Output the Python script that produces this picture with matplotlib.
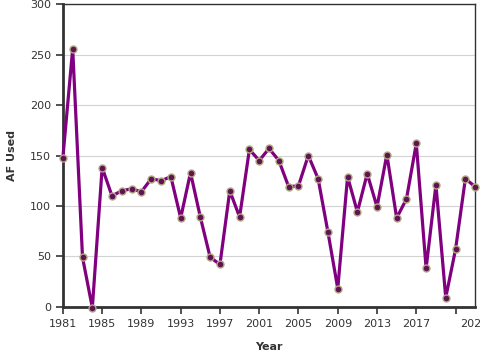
import matplotlib
matplotlib.use("Agg")
import matplotlib.pyplot as plt
from matplotlib.transforms import ScaledTranslation

years = list(range(1981, 2024))
af_used = [148, 256, 49, -1, 138, 110, 115, 117, 114, 127,
           125, 129, 88, 133, 89, 49, 42, 115, 89, 156,
           145, 157, 145, 119, 120, 150, 127, 74, 18, 129,
           94, 132, 99, 151, 88, 107, 162, 38, 121, 9,
           57, 127, 119]
xticks = list(range(1981, 2022, 4))
yticks = [0, 50, 100, 150, 200, 250, 300]


def plot():
    fig = plt.figure(figsize=(4.8, 3.6), dpi=100)
    ax = fig.add_axes([0.131, 0.148, 0.859, 0.840])

    ax.plot(years, af_used, color="#800080", linewidth=2.3, zorder=3,
            marker="o", markersize=5, markerfacecolor="#5e1450",
            markeredgecolor="#b3a585", markeredgewidth=1.0, clip_on=False)

    ax.set_xlim(1981, 2023)
    ax.set_ylim(0, 300)
    ax.set_xticks(xticks)
    ax.set_yticks(yticks)
    ax.tick_params(labelsize=8, colors="#333333", length=5, width=1.2)
    ax.grid(axis="y", color="#d3d3d3", linewidth=0.8)
    ax.set_axisbelow(True)

    # the last year label sits past the figure edge in the original
    last = ax.get_xticklabels()[-1]
    last.set_transform(last.get_transform() + ScaledTranslation(0.19, 0, fig.dpi_scale_trans))

    for side in ["top", "right"]:
        ax.spines[side].set_color("#333333")
        ax.spines[side].set_linewidth(1.0)
    for side in ["left", "bottom"]:
        ax.spines[side].set_color("#333333")
        ax.spines[side].set_linewidth(2.0)

    ax.set_xlabel("Year", fontsize=8, fontweight="bold", color="#333333", labelpad=10)
    ax.set_ylabel("AF Used", fontsize=8, fontweight="bold", color="#333333", labelpad=9)

    fig.savefig("out.png", dpi=100)


plot()
